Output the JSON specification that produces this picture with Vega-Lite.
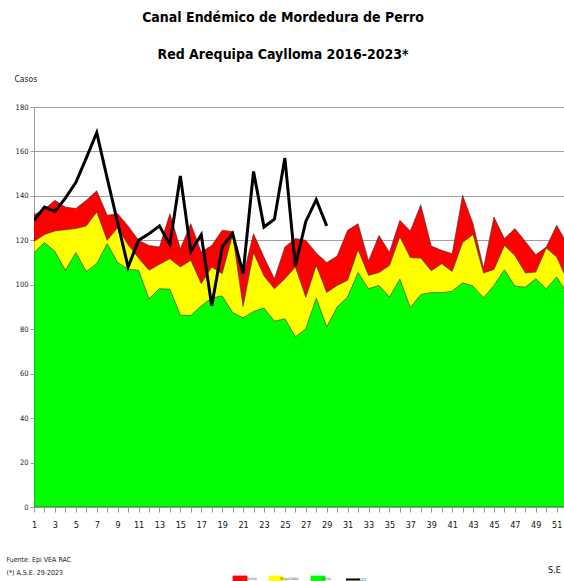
{
  "$schema": "https://vega.github.io/schema/vega-lite/v6.json",
  "width": 530,
  "height": 400,
  "autosize": {"type": "none"},
  "padding": {"left": 34, "top": 107, "right": 0, "bottom": 74},
  "background": "white",
  "config": {"view": {"stroke": null}, "font": "DejaVu Sans Condensed"},
  "title": {
    "text": ["Canal Endémico de Mordedura de Perro", "Red Arequipa Caylloma 2016-2023*"],
    "font": "DejaVu Sans Condensed",
    "fontSize": 14,
    "fontWeight": "bold",
    "color": "#000",
    "lineHeight": 37,
    "anchor": "middle",
    "frame": "group",
    "dx": -16,
    "offset": 12
  },
  "data": {
    "values": [
      {"semana": 1, "Alarma": 131.5, "Seguridad": 119.5, "Éxito": 114.5, "2023": 129},
      {"semana": 2, "Alarma": 134, "Seguridad": 122.6, "Éxito": 119, "2023": 135},
      {"semana": 3, "Alarma": 138, "Seguridad": 124.2, "Éxito": 115, "2023": 133},
      {"semana": 4, "Alarma": 135, "Seguridad": 124.8, "Éxito": 106.5, "2023": 139},
      {"semana": 5, "Alarma": 134.3, "Seguridad": 125.3, "Éxito": 114.5, "2023": 146},
      {"semana": 6, "Alarma": 138, "Seguridad": 126.5, "Éxito": 106, "2023": 157},
      {"semana": 7, "Alarma": 142.3, "Seguridad": 132.8, "Éxito": 109.5, "2023": 168.4},
      {"semana": 8, "Alarma": 131.3, "Seguridad": 120, "Éxito": 118.5, "2023": 148},
      {"semana": 9, "Alarma": 132, "Seguridad": 125.7, "Éxito": 110, "2023": 128},
      {"semana": 10, "Alarma": 126.5, "Seguridad": 118, "Éxito": 107, "2023": 108},
      {"semana": 11, "Alarma": 120, "Seguridad": 112, "Éxito": 106.5, "2023": 120},
      {"semana": 12, "Alarma": 117.7, "Seguridad": 106.5, "Éxito": 93.7, "2023": 123},
      {"semana": 13, "Alarma": 117, "Seguridad": 109.2, "Éxito": 98.2, "2023": 126.5},
      {"semana": 14, "Alarma": 132, "Seguridad": 111.7, "Éxito": 98, "2023": 118},
      {"semana": 15, "Alarma": 116.2, "Seguridad": 108, "Éxito": 86.3, "2023": 149},
      {"semana": 16, "Alarma": 127.5, "Seguridad": 111, "Éxito": 86.2, "2023": 115},
      {"semana": 17, "Alarma": 114.7, "Seguridad": 100.5, "Éxito": 90.5, "2023": 122.5},
      {"semana": 18, "Alarma": 117.7, "Seguridad": 108, "Éxito": 94, "2023": 90.5},
      {"semana": 19, "Alarma": 124.5, "Seguridad": 105, "Éxito": 95, "2023": 117},
      {"semana": 20, "Alarma": 124, "Seguridad": 122.5, "Éxito": 87.5, "2023": 123},
      {"semana": 21, "Alarma": 104, "Seguridad": 90.2, "Éxito": 85.1, "2023": 105},
      {"semana": 22, "Alarma": 123, "Seguridad": 114.5, "Éxito": 88, "2023": 151},
      {"semana": 23, "Alarma": 112.5, "Seguridad": 104, "Éxito": 89.5, "2023": 126},
      {"semana": 24, "Alarma": 102.7, "Seguridad": 98.2, "Éxito": 83.6, "2023": 129.5},
      {"semana": 25, "Alarma": 117, "Seguridad": 102.7, "Éxito": 84.7, "2023": 157},
      {"semana": 26, "Alarma": 120.8, "Seguridad": 108, "Éxito": 76.5, "2023": 108.5},
      {"semana": 27, "Alarma": 120, "Seguridad": 94.4, "Éxito": 80.2, "2023": 128.5},
      {"semana": 28, "Alarma": 114.3, "Seguridad": 108.7, "Éxito": 94, "2023": 138.3},
      {"semana": 29, "Alarma": 110, "Seguridad": 96.5, "Éxito": 81, "2023": 126.5},
      {"semana": 30, "Alarma": 113, "Seguridad": 99.7, "Éxito": 90},
      {"semana": 31, "Alarma": 124.5, "Seguridad": 102, "Éxito": 94.5},
      {"semana": 32, "Alarma": 127.5, "Seguridad": 115.8, "Éxito": 105.5},
      {"semana": 33, "Alarma": 110.7, "Seguridad": 104.2, "Éxito": 98.2},
      {"semana": 34, "Alarma": 122.2, "Seguridad": 105.5, "Éxito": 99.7},
      {"semana": 35, "Alarma": 114.6, "Seguridad": 108.7, "Éxito": 94.5},
      {"semana": 36, "Alarma": 129, "Seguridad": 121.6, "Éxito": 102.5},
      {"semana": 37, "Alarma": 124.2, "Seguridad": 112.2, "Éxito": 89.7},
      {"semana": 38, "Alarma": 136, "Seguridad": 112, "Éxito": 95.6},
      {"semana": 39, "Alarma": 117.4, "Seguridad": 106.3, "Éxito": 96.5},
      {"semana": 40, "Alarma": 115.5, "Seguridad": 109.5, "Éxito": 96.4},
      {"semana": 41, "Alarma": 114, "Seguridad": 106, "Éxito": 97.1},
      {"semana": 42, "Alarma": 140.3, "Seguridad": 119, "Éxito": 100.9},
      {"semana": 43, "Alarma": 127.5, "Seguridad": 122.6, "Éxito": 99.4},
      {"semana": 44, "Alarma": 107.5, "Seguridad": 105.3, "Éxito": 94.1},
      {"semana": 45, "Alarma": 130.5, "Seguridad": 106.9, "Éxito": 99.7},
      {"semana": 46, "Alarma": 120.8, "Seguridad": 117.7, "Éxito": 106.8},
      {"semana": 47, "Alarma": 125.3, "Seguridad": 113.2, "Éxito": 99.4},
      {"semana": 48, "Alarma": 119.5, "Seguridad": 105.3, "Éxito": 98.9},
      {"semana": 49, "Alarma": 113.5, "Seguridad": 105.7, "Éxito": 102.7},
      {"semana": 50, "Alarma": 117, "Seguridad": 116.5, "Éxito": 98.2},
      {"semana": 51, "Alarma": 126.8, "Seguridad": 112.5, "Éxito": 103.5},
      {"semana": 52, "Alarma": 118.5, "Seguridad": 102, "Éxito": 96}
    ]
  },
  "transform": [
    {"fold": ["Alarma", "Seguridad", "Éxito", "2023"], "as": ["serie", "valor"]},
    {"filter": "isValid(datum.valor)"}
  ],
  "encoding": {
    "x": {
      "field": "semana",
      "type": "quantitative",
      "scale": {"domain": [1, 51.7], "nice": false, "zero": false},
      "axis": {
        "values": [1,2,3,4,5,6,7,8,9,10,11,12,13,14,15,16,17,18,19,20,21,22,23,24,25,26,27,28,29,30,31,32,33,34,35,36,37,38,39,40,41,42,43,44,45,46,47,48,49,50,51],
        "labelExpr": "datum.value % 2 === 1 ? datum.label : ''",
        "grid": false,
        "domainColor": "#999",
        "tickColor": "#999",
        "tickSize": 5,
        "labelFont": "DejaVu Sans Condensed",
        "labelFontSize": 9,
        "labelColor": "#111",
        "labelPadding": 8,
        "labelFlush": false,
        "labelOverlap": false,
        "title": "S.E",
        "titleX": 520,
        "titleY": 62,
        "titleAlign": "center",
        "titleBaseline": "middle",
        "titleFont": "DejaVu Sans Condensed",
        "titleFontSize": 9,
        "titleFontWeight": "normal",
        "titleColor": "#111"
      }
    },
    "color": {
      "field": "serie",
      "type": "nominal",
      "scale": {"domain": ["Alarma", "Seguridad", "Éxito", "2023"], "range": ["#ff0000", "#ffff00", "#00ff00", "#000000"]},
      "legend": {
        "orient": "none",
        "legendX": 204,
        "legendY": 470,
        "direction": "horizontal",
        "title": null,
        "labelFont": "DejaVu Sans Condensed",
        "labelFontSize": 4,
        "labelColor": "#555",
        "labelLimit": 40,
        "labelOffset": 2,
        "columnPadding": 10,
        "symbolSize": 196,
        "symbolType": "M-1,-0.45H1V0.45H-1Z",
        "symbolStrokeColor": "#222",
        "symbolStrokeWidth": 0.8,
        "symbolOpacity": 1,
        "encode": {
          "symbols": {
            "update": {
              "shape": {"signal": "datum.value === '2023' ? 'stroke' : 'M-1,-0.45H1V0.45H-1Z'"},
              "stroke": {"signal": "datum.value === '2023' ? '#000' : '#222'"},
              "strokeWidth": {"signal": "datum.value === '2023' ? 2 : 0.8"}
            }
          }
        }
      }
    }
  },
  "layer": [
    {
      "transform": [{"filter": "datum.serie === 'Alarma'"}],
      "mark": {"type": "area", "opacity": 1, "stroke": "#333", "strokeWidth": 0.6, "clip": true},
      "encoding": {
        "y": {
          "field": "valor",
          "type": "quantitative",
          "stack": null,
          "scale": {"domain": [0, 180], "nice": false},
          "axis": {
            "values": [0, 20, 40, 60, 80, 100, 120, 140, 160, 180],
            "grid": true,
            "gridColor": "#a0a0a0",
            "gridWidth": 1.2,
            "domainColor": "#a0a0a0",
            "tickColor": "#a0a0a0",
            "tickSize": 4,
            "labelFont": "DejaVu Sans Condensed",
            "labelFontSize": 7.5,
            "labelColor": "#222",
            "labelPadding": 2,
            "title": "Casos",
            "titleAngle": 0,
            "titleX": -20,
            "titleY": -29,
            "titleAlign": "left",
            "titleBaseline": "middle",
            "titleFont": "DejaVu Sans Condensed",
            "titleFontSize": 8.5,
            "titleFontWeight": "normal",
            "titleColor": "#222"
          }
        }
      }
    },
    {
      "transform": [{"filter": "datum.serie === 'Seguridad'"}],
      "mark": {"type": "area", "opacity": 1, "stroke": "#333", "strokeWidth": 0.6, "clip": true},
      "encoding": {
        "y": {"field": "valor", "type": "quantitative", "stack": null, "scale": {"domain": [0, 180], "nice": false}, "axis": null}
      }
    },
    {
      "transform": [{"filter": "datum.serie === 'Éxito'"}],
      "mark": {"type": "area", "opacity": 1, "stroke": "#333", "strokeWidth": 0.6, "clip": true},
      "encoding": {
        "y": {"field": "valor", "type": "quantitative", "stack": null, "scale": {"domain": [0, 180], "nice": false}, "axis": null}
      }
    },
    {
      "transform": [{"filter": "datum.serie === '2023'"}],
      "mark": {"type": "line", "strokeWidth": 3, "clip": true},
      "encoding": {
        "y": {
          "field": "valor",
          "type": "quantitative",
          "scale": {"domain": [0, 180], "nice": false},
          "axis": {
            "orient": "right",
            "values": [],
            "labels": false,
            "ticks": false,
            "domain": false,
            "grid": false,
            "title": ["Fuente:  Epi VEA RAC", "(*) A.S.E. 29-2023"],
            "titleAngle": 0,
            "titleX": -558,
            "titleY": 448,
            "titleAlign": "left",
            "titleBaseline": "top",
            "titleFont": "DejaVu Sans Condensed",
            "titleFontSize": 7,
            "titleFontWeight": "normal",
            "titleLineHeight": 13,
            "titleColor": "#222"
          }
        }
      }
    }
  ],
  "resolve": {"axis": {"y": "independent"}}
}
